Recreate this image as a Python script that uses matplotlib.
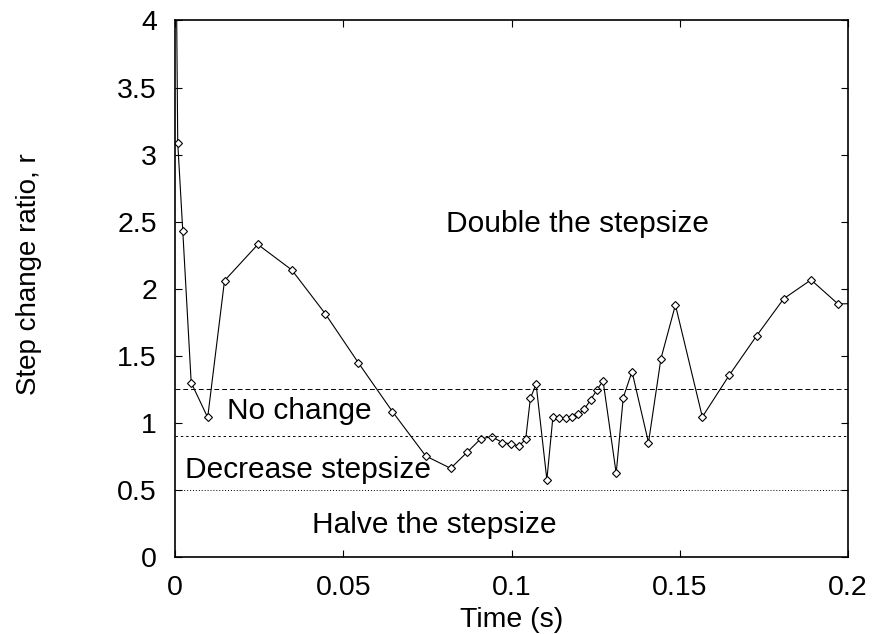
import matplotlib
matplotlib.use("Agg")
import matplotlib.pyplot as plt

plt.rcParams['font.family'] = ['Liberation Sans', 'DejaVu Sans']

time = [0.0, 0.0008, 0.0023, 0.0048, 0.0097, 0.0147, 0.0246, 0.0347, 0.0446,
        0.0545, 0.0646, 0.0745, 0.0819, 0.0869, 0.0908, 0.0941, 0.0973, 0.0999,
        0.1022, 0.1042, 0.1056, 0.1073, 0.1105, 0.1123, 0.1142, 0.1161, 0.1181,
        0.1199, 0.1216, 0.1235, 0.1254, 0.1272, 0.1311, 0.1332, 0.1358, 0.1407,
        0.1444, 0.1487, 0.1567, 0.1647, 0.1728, 0.1809, 0.1890, 0.1970, 0.2050]
ratio = [5.5, 3.09, 2.43, 1.30, 1.04, 2.06, 2.33, 2.14, 1.815,
         1.447, 1.084, 0.753, 0.661, 0.783, 0.880, 0.897, 0.853, 0.843,
         0.828, 0.877, 1.183, 1.289, 0.576, 1.045, 1.039, 1.034, 1.044,
         1.064, 1.101, 1.171, 1.247, 1.313, 0.624, 1.188, 1.382, 0.853,
         1.479, 1.879, 1.044, 1.355, 1.648, 1.926, 2.066, 1.887, 1.89]

thresholds = [1.25, 0.9, 0.5]
regions = ["Double the stepsize", "No change", "Decrease stepsize", "Halve the stepsize"]
# left edge / baseline of each region label (data units)
region_x = [0.0805, 0.0154, 0.003, 0.0406]
region_y = [2.426, 1.029, 0.589, 0.177]

fig = plt.figure(figsize=(8.73, 6.34), dpi=100)
ax = fig.add_axes([0.2005, 0.1215, 0.7709, 0.8462])

ax.plot(time, ratio, color='black', lw=0.8, marker='D', markersize=4.5,
        mfc='white', mec='black', mew=0.8)

ax.axhline(thresholds[0], color='black', lw=0.7, ls=(0, (5, 3)))
ax.axhline(thresholds[1], color='black', lw=0.7, ls=(0, (2.5, 3)))
ax.axhline(thresholds[2], color='black', lw=0.7, ls=(0, (1, 2)))

for lab, x, y in zip(regions, region_x, region_y):
    ax.text(x, y, lab, fontsize=21.5, ha='left', va='baseline')

ax.set_xlim(0, 0.2)
ax.set_ylim(0, 4)
ax.set_xticks([0, 0.05, 0.1, 0.15, 0.2])
ax.set_xticklabels(['0', '0.05', '0.1', '0.15', '0.2'])
ax.set_yticks([0, 0.5, 1, 1.5, 2, 2.5, 3, 3.5, 4])
ax.set_yticklabels(['0', '0.5', '1', '1.5', '2', '2.5', '3', '3.5', '4'])
ax.tick_params(direction='in', length=5, width=0.8, labelsize=20.5,
               top=True, right=True)
ax.tick_params(axis='x', pad=13)
ax.tick_params(axis='y', pad=13)
for s in ax.spines.values():
    s.set_linewidth(1.2)

ax.set_xlabel('Time (s)', fontsize=20.5)
ax.xaxis.set_label_coords(0.5, -0.093)
ax.set_ylabel('Step change ratio, r', fontsize=20)
ax.yaxis.set_label_coords(-0.198, 0.527)

fig.savefig('out.png', dpi=100)
